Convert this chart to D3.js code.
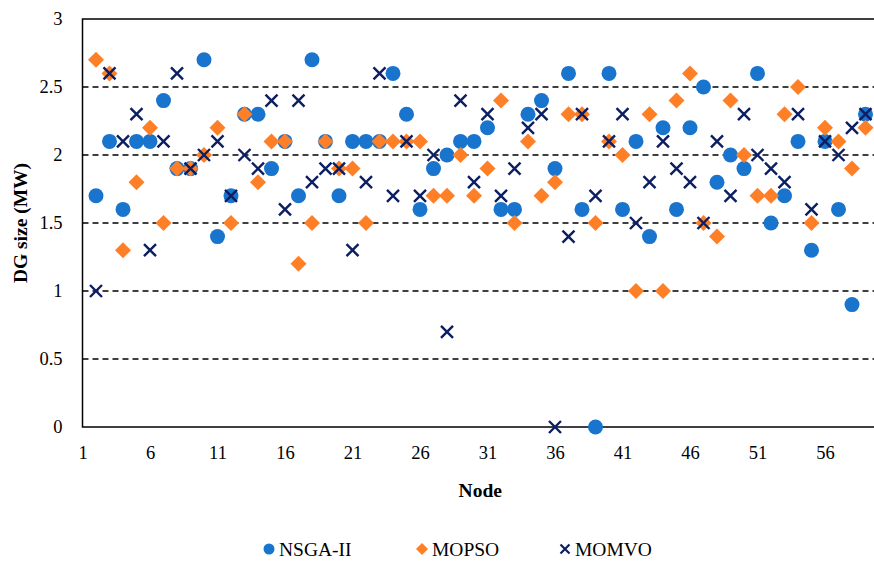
<!DOCTYPE html>
<html><head><meta charset="utf-8">
<script src="https://cdn.jsdelivr.net/npm/d3@7"></script>
<style>body{margin:0;background:#fff}svg{display:block}text{font-family:"Liberation Serif","DejaVu Serif",serif;fill:#000}</style>
</head><body>
<svg id="c" width="874" height="563"></svg>
<script>
const nodes = d3.range(2, 60);
const nsga = [1.7,2.1,1.6,2.1,2.1,2.4,1.9,1.9,2.7,1.4,1.7,2.3,2.3,1.9,2.1,1.7,2.7,2.1,1.7,2.1,2.1,2.1,2.6,2.3,1.6,1.9,2.0,2.1,2.1,2.2,1.6,1.6,2.3,2.4,1.9,2.6,1.6,0,2.6,1.6,2.1,1.4,2.2,1.6,2.2,2.5,1.8,2.0,1.9,2.6,1.5,1.7,2.1,1.3,2.1,1.6,0.9,2.3];
const mopso = [2.7,2.6,1.3,1.8,2.2,1.5,1.9,1.9,2.0,2.2,1.5,2.3,1.8,2.1,2.1,1.2,1.5,2.1,1.9,1.9,1.5,2.1,2.1,2.1,2.1,1.7,1.7,2.0,1.7,1.9,2.4,1.5,2.1,1.7,1.8,2.3,2.3,1.5,2.1,2.0,1.0,2.3,1.0,2.4,2.6,1.5,1.4,2.4,2.0,1.7,1.7,2.3,2.5,1.5,2.2,2.1,1.9,2.2];
const momvo = [1.0,2.6,2.1,2.3,1.3,2.1,2.6,1.9,2.0,2.1,1.7,2.0,1.9,2.4,1.6,2.4,1.8,1.9,1.9,1.3,1.8,2.6,1.7,2.1,1.7,2.0,0.7,2.4,1.8,2.3,1.7,1.9,2.2,2.3,0,1.4,2.3,1.7,2.1,2.3,1.5,1.8,2.1,1.9,1.8,1.5,2.1,1.7,2.3,2.0,1.9,1.8,2.3,1.6,2.1,2.0,2.2,2.3];
const xTicks = [1,6,11,16,21,26,31,36,41,46,51,56];
const yTicks = [0,0.5,1,1.5,2,2.5,3];
const seriesNames = ["NSGA-II","MOPSO","MOMVO"];
const colors = ["#1874CD","#FF7F27","#0C1F63"];

const svg = d3.select("#c");
const L = 82.5, T = 19, B = 427;
const x = d3.scaleLinear().domain([1, 60]).range([L, L + 59*13.5]);
const y = d3.scaleLinear().domain([0, 3]).range([B, T]);

// gridlines
svg.append("g").selectAll("line").data(yTicks.filter(v=>v>0 && v<3)).join("line")
  .attr("x1", L).attr("x2", 874).attr("y1", d=>y(d)).attr("y2", d=>y(d))
  .attr("stroke","#000").attr("stroke-width",1.3).attr("stroke-dasharray","6,4");

// frame
svg.append("rect").attr("x",L).attr("y",T).attr("width",x(60)-L).attr("height",B-T)
  .attr("fill","none").attr("stroke","#000").attr("stroke-width",1.5);

// axes
const yAxis = d3.axisLeft(y).tickValues(yTicks).tickSize(0).tickPadding(20).tickFormat(d3.format("~g"));
const gy = svg.append("g").attr("transform",`translate(${L},0)`).call(yAxis);
gy.select(".domain").remove();
gy.selectAll("text").attr("font-size",18.5).attr("font-family","Liberation Serif, serif");

const xAxis = d3.axisBottom(x).tickValues(xTicks).tickSize(0).tickPadding(19);
const gx = svg.append("g").attr("transform",`translate(0,${B})`).call(xAxis);
gx.select(".domain").remove();
gx.selectAll("text").attr("font-size",18.5).attr("font-family","Liberation Serif, serif");

svg.append("text").attr("x", (L+874)/2 + 2).attr("y", 497).attr("text-anchor","middle")
  .attr("font-weight","bold").attr("font-size",19.5).text("Node");
svg.append("text").attr("transform",`translate(27,${(T+B)/2}) rotate(-90)`).attr("text-anchor","middle")
  .attr("font-weight","bold").attr("font-size",19.5).text("DG size (MW)");

const plot = svg.append("g");
const cross = (g, s, col, w) => {
  g.append("path").attr("d",`M${-s},${-s}L${s},${s}M${-s},${s}L${s},${-s}`)
   .attr("stroke",col).attr("stroke-width",w).attr("fill","none");
};
// NSGA-II circles
plot.append("g").selectAll("circle").data(nodes.map((n,i)=>[n,nsga[i]])).join("circle")
  .attr("cx",d=>x(d[0])).attr("cy",d=>y(d[1])).attr("r",7.5).attr("fill",colors[0]);
// MOPSO diamonds
plot.append("g").selectAll("path").data(nodes.map((n,i)=>[n,mopso[i]])).join("path")
  .attr("transform",d=>`translate(${x(d[0])},${y(d[1])})`)
  .attr("d","M0,-8L8,0L0,8L-8,0Z").attr("fill",colors[1]);
// MOMVO crosses
plot.append("g").selectAll("g").data(nodes.map((n,i)=>[n,momvo[i]])).join("g")
  .attr("transform",d=>`translate(${x(d[0])},${y(d[1])})`)
  .each(function(){ cross(d3.select(this), 6, colors[2], 2.4); });

// legend
const leg = svg.append("g");
const lx = [269, 422, 565];
seriesNames.forEach((name,i)=>{
  const g = leg.append("g").attr("transform",`translate(${lx[i]},549)`);
  if(i===0) g.append("circle").attr("r",5.5).attr("fill",colors[0]);
  if(i===1) g.append("path").attr("d","M0,-6L6,0L0,6L-6,0Z").attr("fill",colors[1]);
  if(i===2) cross(g, 4.5, colors[2], 2.2);
  g.append("text").attr("x",10).attr("y",6.5).attr("font-size",19.5).text(name);
});
</script>
</body></html>
